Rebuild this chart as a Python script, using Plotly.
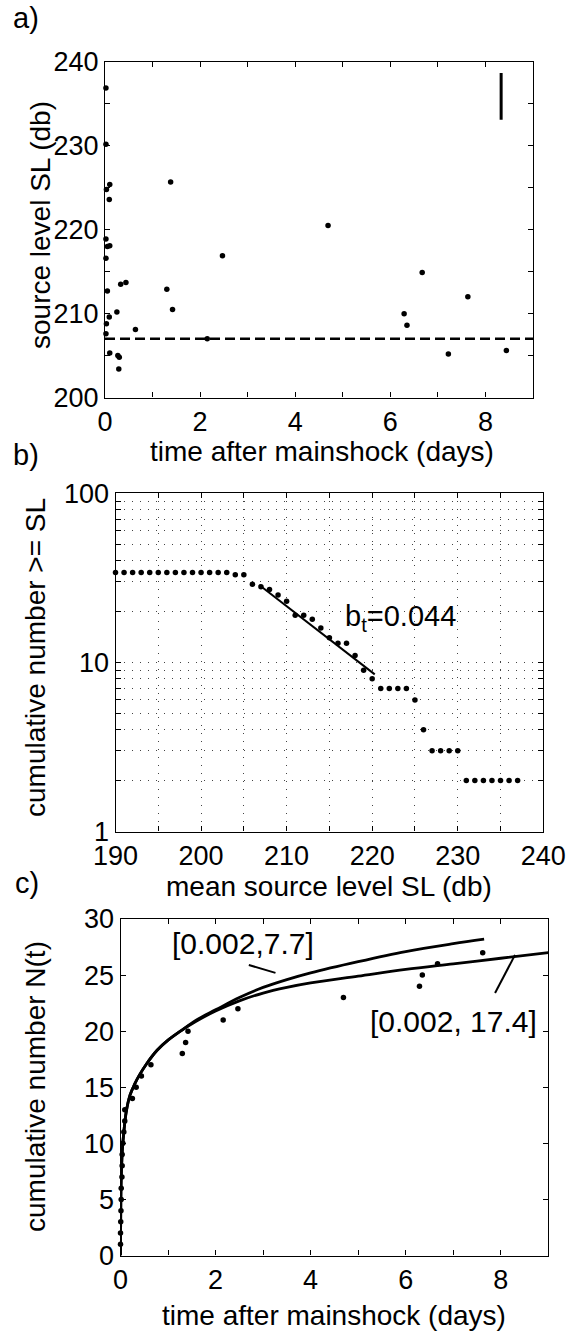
import plotly.graph_objects as go

W, H = 577, 1331
FONT = "Liberation Sans, Arial, Helvetica, sans-serif"

# ---------------- data ----------------
# panel a: source level vs time
time_a = [0.02, 0.02, 0.03, 0.10, 0.09, 0.02, 0.05, 0.10, 0.02, 0.05, 0.33, 0.44,
          0.25, 0.09, 0.03, 0.02, 0.64, 0.10, 0.27, 0.30, 0.29, 1.30, 1.38, 1.42,
          2.15, 2.47, 4.69, 6.29, 6.35, 6.67, 7.63, 7.22, 8.44]
sl_a = [236.9, 230.2, 224.8, 225.4, 223.6, 218.9, 218.0, 218.1, 216.6, 212.7, 213.5, 213.7,
        210.2, 209.6, 208.8, 207.6, 208.1, 205.3, 205.0, 204.8, 203.4, 212.9, 225.7, 210.5,
        207.0, 216.9, 220.5, 210.0, 208.6, 214.9, 212.0, 205.2, 205.6]
threshold_sl = 207.0
errbar_x = [8.33, 8.33]
errbar_y = [233.1, 238.7]

# panel b: cumulative number >= SL
sl_b = list(range(190, 238))
cum_b = [34] * 14 + [33, 33, 29, 28, 27, 25, 23, 19, 19, 18, 16, 14, 13, 13, 11, 9, 8,
                     7, 7, 7, 7, 6, 4, 3, 3, 3, 3, 2, 2, 2, 2, 2, 2, 2]
fit_sl = [206.8, 220.3]
fit_n = [28.7, 8.5]

# panel c: cumulative number N(t)
time_c = [0.0, 0.0, 0.005, 0.01, 0.015, 0.015, 0.03, 0.035, 0.035, 0.05, 0.07, 0.09, 0.09,
          0.25, 0.33, 0.44, 0.64, 1.30, 1.37, 1.42, 2.16, 2.47, 4.69, 6.29, 6.35, 6.67, 7.62]
n_c = list(range(1, 28))
curve1_t = [0.0, 0.002, 0.005, 0.01, 0.02, 0.04, 0.07, 0.12, 0.2, 0.3, 0.4, 0.55, 0.77,
            1.0, 1.26, 1.6, 2.0, 2.5, 3.0, 3.5, 4.0, 5.0, 6.0, 7.0, 7.65]
curve1_n = [0.0, 2.0, 4.0, 6.0, 7.6, 9.5, 11.0, 12.8, 14.3, 15.3, 16.1, 17.1, 18.3,
            19.2, 20.0, 21.0, 21.9, 23.0, 23.9, 24.6, 25.2, 26.2, 27.1, 27.8, 28.2]
curve2_t = [0.0, 0.002, 0.005, 0.01, 0.02, 0.04, 0.07, 0.12, 0.2, 0.3, 0.4, 0.55, 0.77,
            1.0, 1.26, 1.6, 2.0, 2.5, 3.0, 3.5, 4.0, 5.0, 6.0, 7.0, 8.0, 9.0]
curve2_n = [0.0, 2.0, 4.0, 6.0, 7.6, 9.5, 11.0, 12.8, 14.3, 15.3, 16.1, 17.1, 18.3,
            19.2, 20.0, 20.9, 21.8, 22.7, 23.4, 23.9, 24.3, 24.9, 25.5, 26.0, 26.5, 27.0]

# ---------------- helpers ----------------
def px(x):
    return x / W

def py(y):
    return 1 - y / H

fig = go.Figure()

dot = dict(color="black", size=5.5)

# panel a
fig.add_trace(go.Scatter(x=[0, 9], y=[threshold_sl, threshold_sl], mode="lines",
                         line=dict(color="black", width=2.6, dash="10px,5px"),
                         xaxis="x", yaxis="y", showlegend=False, hoverinfo="skip"))
fig.add_trace(go.Scatter(x=errbar_x, y=errbar_y, mode="lines",
                         line=dict(color="black", width=3),
                         xaxis="x", yaxis="y", showlegend=False))
fig.add_trace(go.Scatter(x=time_a, y=sl_a, mode="markers", marker=dot,
                         xaxis="x", yaxis="y", showlegend=False, cliponaxis=False))

# panel b
fig.add_trace(go.Scatter(x=fit_sl, y=fit_n, mode="lines",
                         line=dict(color="black", width=2),
                         xaxis="x2", yaxis="y2", showlegend=False))
fig.add_trace(go.Scatter(x=sl_b, y=cum_b, mode="markers", marker=dot,
                         xaxis="x2", yaxis="y2", showlegend=False, cliponaxis=False))

# panel c
fig.add_trace(go.Scatter(x=curve1_t, y=curve1_n, mode="lines", line_shape="spline",
                         line=dict(color="black", width=2.8),
                         xaxis="x3", yaxis="y3", showlegend=False))
fig.add_trace(go.Scatter(x=curve2_t, y=curve2_n, mode="lines", line_shape="spline",
                         line=dict(color="black", width=2.8),
                         xaxis="x3", yaxis="y3", showlegend=False))
fig.add_trace(go.Scatter(x=time_c, y=n_c, mode="markers", marker=dot,
                         xaxis="x3", yaxis="y3", showlegend=False, cliponaxis=False))
# leader lines
fig.add_trace(go.Scatter(x=[2.70, 3.26], y=[25.9, 25.2], mode="lines",
                         line=dict(color="black", width=2),
                         xaxis="x3", yaxis="y3", showlegend=False))
fig.add_trace(go.Scatter(x=[7.88, 8.30], y=[23.4, 26.8], mode="lines",
                         line=dict(color="black", width=2),
                         xaxis="x3", yaxis="y3", showlegend=False))

TF = dict(family=FONT, size=27, color="black")
common = dict(showline=True, linecolor="black", linewidth=1.3, mirror="ticks",
              ticks="inside", ticklen=5, tickwidth=1.2, tickcolor="black",
              zeroline=False, tickfont=TF, automargin=False)

xa = dict(domain=[px(105), px(533)], anchor="y", range=[0, 9],
          tickvals=list(range(10)), ticktext=["0", "", "2", "", "4", "", "6", "", "8", ""],
          showgrid=False, **common)
ya = dict(domain=[py(397.5), py(62)], anchor="x", range=[200, 240],
          tickvals=list(range(200, 241, 5)),
          ticktext=["200", "", "210", "", "220", "", "230", "", "240"],
          showgrid=False, **common)

b_minor = [1, 2, 3, 4, 5, 6, 7, 8, 9, 10, 20, 30, 40, 50, 60, 70, 80, 90, 100]
b_text = ["1"] + [""] * 8 + ["10"] + [""] * 8 + ["100"]
grid = dict(showgrid=True, gridcolor="#444444", gridwidth=1, griddash="1px,7px")
xb = dict(domain=[px(115.5), px(543.3)], anchor="y2", range=[190, 240],
          tickvals=list(range(190, 241, 5)),
          ticktext=["190", "", "200", "", "210", "", "220", "", "230", "", "240"],
          **grid, **common)
yb = dict(domain=[py(831.5), py(493.3)], anchor="x2", type="log", range=[0, 2],
          tickvals=b_minor, ticktext=b_text, **grid, **common)

xc = dict(domain=[px(120.5), px(548.3)], anchor="y3", range=[0, 9],
          tickvals=list(range(10)), ticktext=["0", "", "2", "", "4", "", "6", "", "8", ""],
          showgrid=False, **common)
yc = dict(domain=[py(1255.5), py(919)], anchor="x3", range=[0, 30],
          tickvals=list(range(0, 31, 5)),
          ticktext=[str(v) for v in range(0, 31, 5)],
          showgrid=False, **common)


def ann(text, x, y, angle=0, xanchor="center", size=28):
    return dict(text=text, x=px(x), y=py(y), xref="paper", yref="paper",
                showarrow=False, textangle=angle, xanchor=xanchor, yanchor="middle",
                font=dict(family=FONT, size=size, color="black"))

annotations = [
    ann("a)", 26, 18, size=29),
    ann("b)", 26, 455, size=29),
    ann("c)", 27, 883, size=29),
    ann("time after mainshock (days)", 322, 451),
    ann("source level SL (db)", 40, 225, angle=-90),
    ann("mean source level SL (db)", 329, 886),
    ann("cumulative number >= SL", 35, 658, angle=-90),
    ann("time after mainshock (days)", 334, 1315),
    ann("cumulative number N(t)", 35, 1087, angle=-90),
    dict(text="b<sub>t</sub>=0.044", x=216.6, y=1.262, xref="x2", yref="y2",
         showarrow=False, xanchor="left", yanchor="middle",
         font=dict(family=FONT, size=29, color="black")),
    dict(text="[0.002,7.7]", x=1.05, y=27.8, xref="x3", yref="y3",
         showarrow=False, xanchor="left", yanchor="middle",
         font=dict(family=FONT, size=30, color="black")),
    dict(text="[0.002, 17.4]", x=5.2, y=20.9, xref="x3", yref="y3",
         showarrow=False, xanchor="left", yanchor="middle",
         font=dict(family=FONT, size=30, color="black")),
]

fig.update_layout(
    width=W, height=H, margin=dict(l=0, r=0, t=0, b=0, autoexpand=False),
    paper_bgcolor="white", plot_bgcolor="white",
    xaxis=xa, yaxis=ya, xaxis2=xb, yaxis2=yb, xaxis3=xc, yaxis3=yc,
    annotations=annotations, showlegend=False,
    font=dict(family=FONT, color="black"),
)

fig.write_html("out.html")
